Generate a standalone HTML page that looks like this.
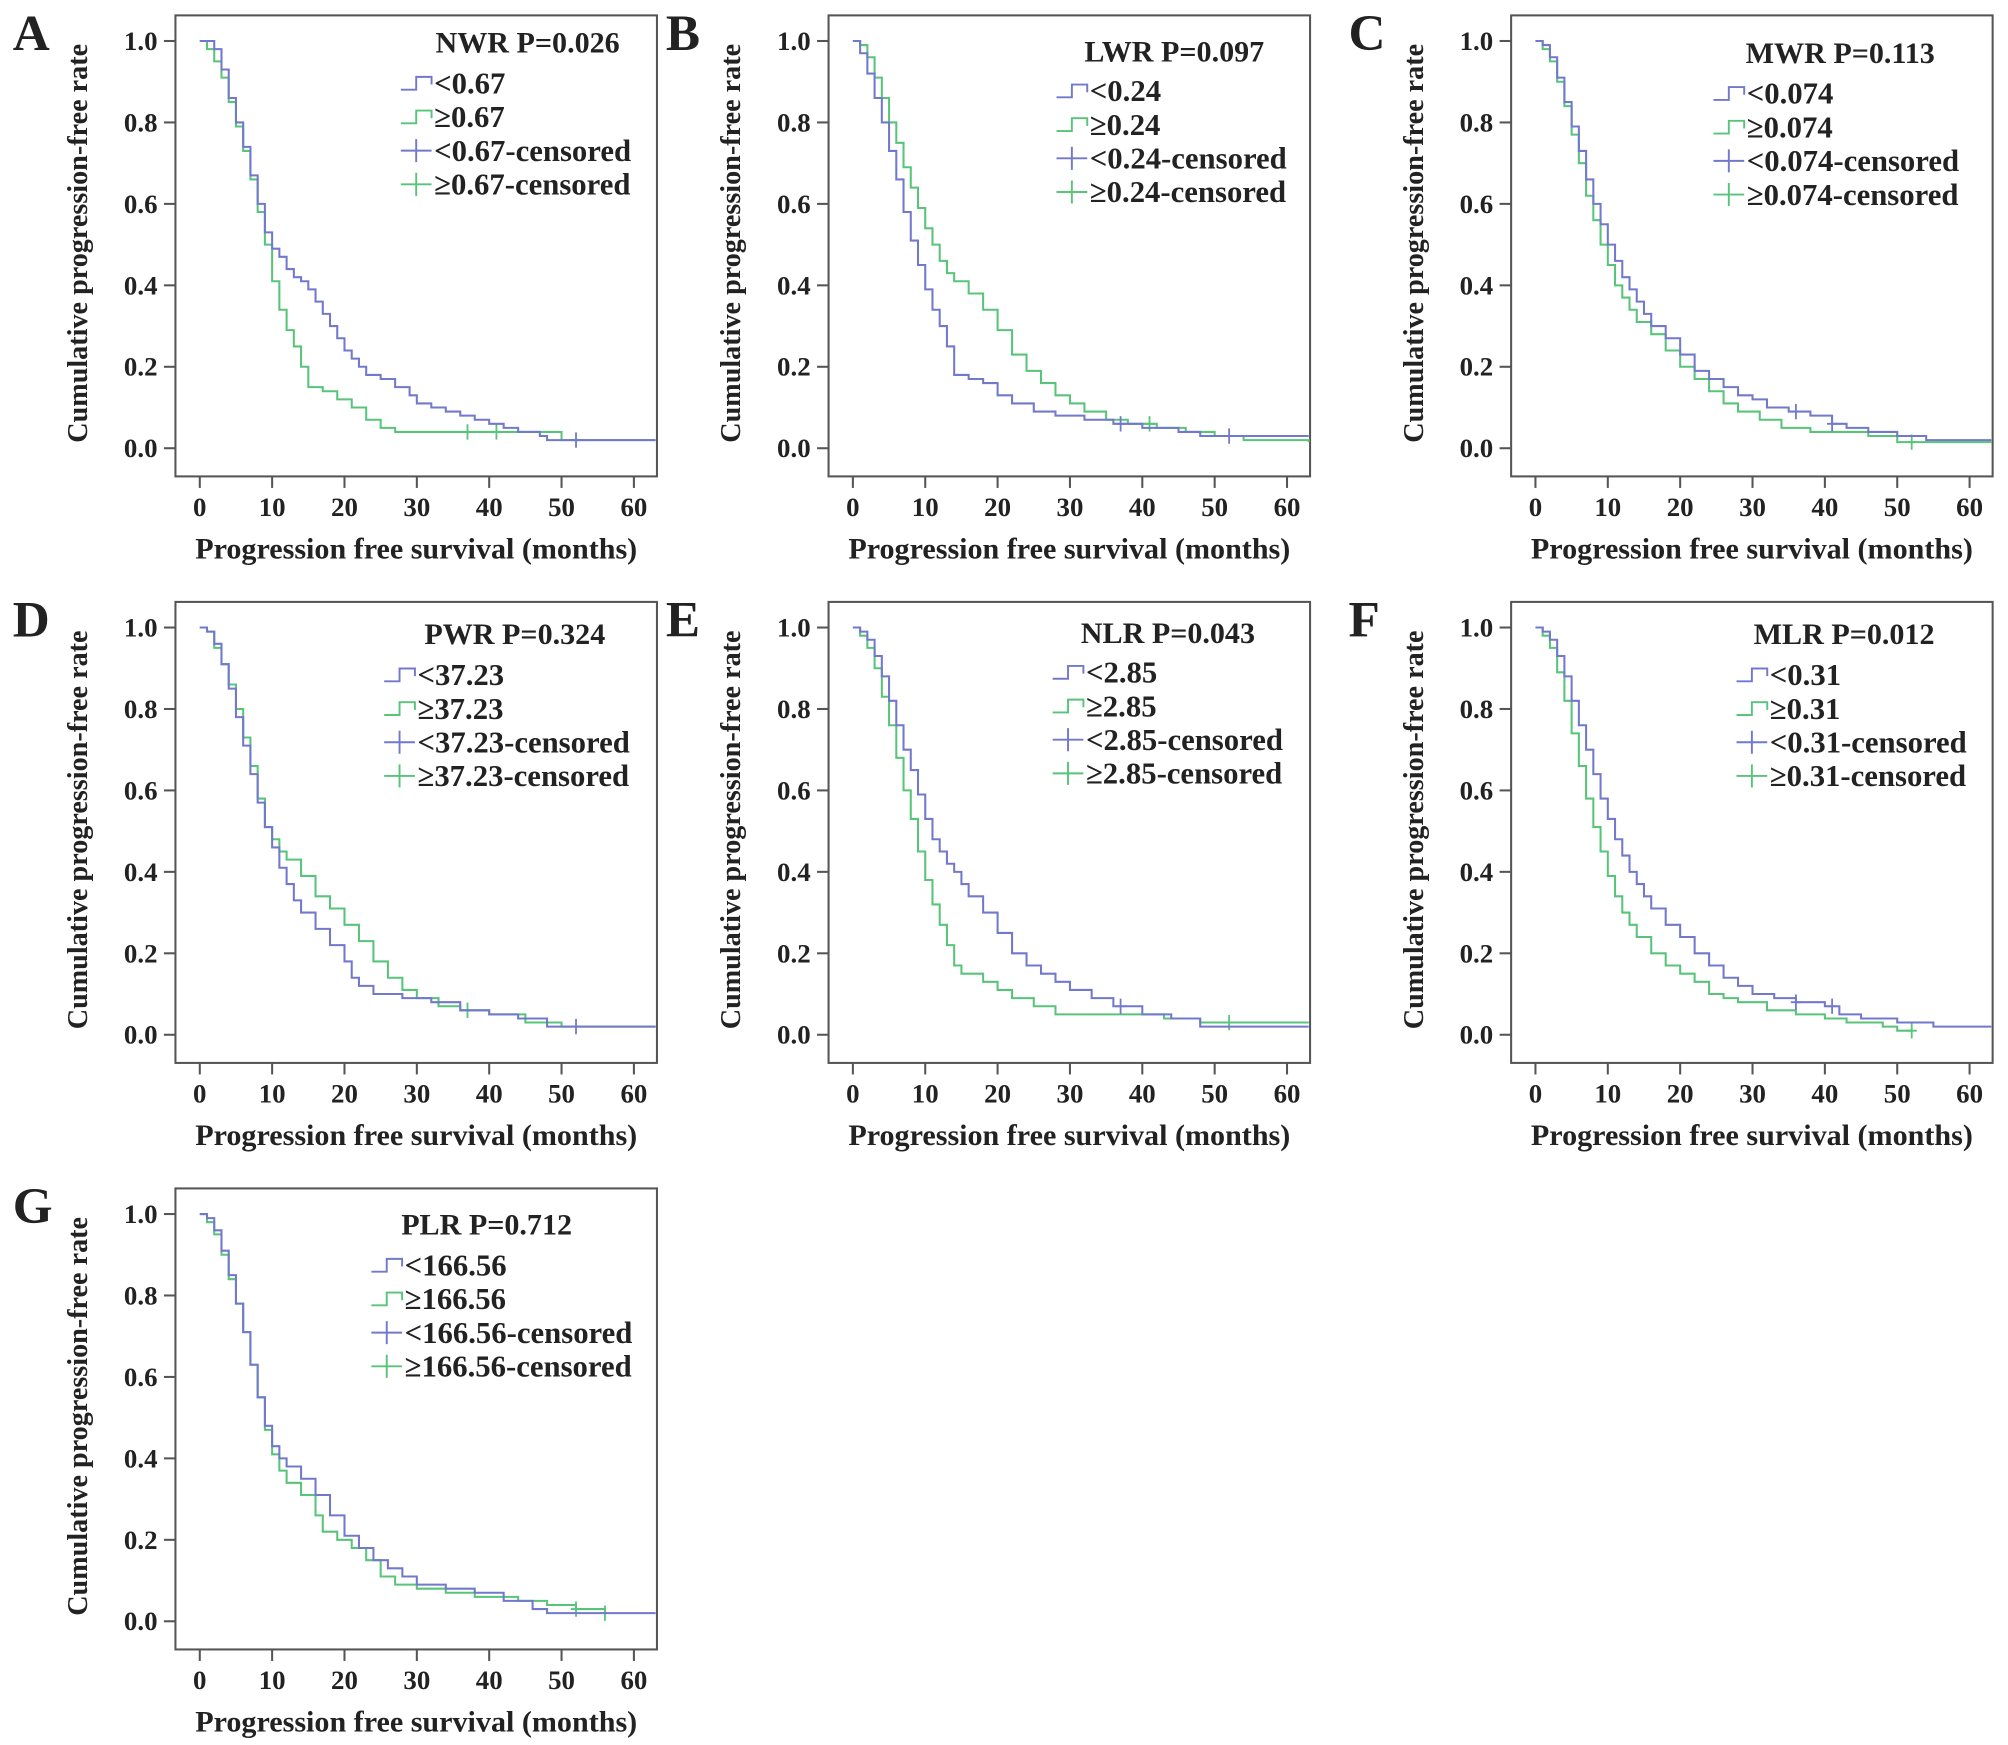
<!DOCTYPE html>
<html><head><meta charset="utf-8">
<style>
html,body{margin:0;padding:0;background:#fff;}
svg{display:block;}
text{font-family:"Liberation Serif",serif;font-weight:bold;fill:#222;}
</style></head>
<body>
<svg id="fig" width="2008" height="1745" viewBox="0 0 1568 1362.6" xmlns="http://www.w3.org/2000/svg"></svg>
<script>
// ---- data (time in months, survival proportion) ----
const xTicks = [0,10,20,30,40,50,60];
const yTicks = [0.0,0.2,0.4,0.6,0.8,1.0];
const yTickLabels = ["0.0","0.2","0.4","0.6","0.8","1.0"];
const panelLetters = ["A","B","C","D","E","F","G"];
const panelTitles = ["NWR P=0.026","LWR P=0.097","MWR P=0.113","PWR P=0.324","NLR P=0.043","MLR P=0.012","PLR P=0.712"];
const cutLabels = ["0.67","0.24","0.074","37.23","2.85","0.31","166.56"];

const aBlueT=[0,1,2,3,4,5,6,7,8,9,10,11,12,13,14,15,16,17,18,19,20,21,22,23,25,27,29,30,32,34,36,38,40,42,44,47,48,63];
const aBlueS=[1,1,.98,.93,.86,.80,.74,.67,.60,.53,.49,.47,.44,.42,.41,.39,.36,.33,.30,.27,.24,.22,.20,.18,.17,.15,.13,.11,.10,.09,.08,.07,.06,.05,.04,.03,.02,.02];
const aBlueC=[52];
const aGreenT=[0,1,2,3,4,5,6,7,8,9,10,11,12,13,14,15,17,19,21,23,25,27,49,50,63];
const aGreenS=[1,.98,.95,.91,.85,.79,.73,.66,.58,.50,.41,.34,.29,.25,.20,.15,.14,.12,.10,.07,.05,.04,.04,.02,.02];
const aGreenC=[37,41];

const bBlueT=[0,1,2,3,4,5,6,7,8,9,10,11,12,13,14,16,18,20,22,25,28,32,36,40,45,48,63];
const bBlueS=[1,.97,.92,.86,.80,.73,.66,.58,.51,.45,.39,.34,.30,.25,.18,.17,.16,.13,.11,.09,.08,.07,.06,.05,.04,.03,.03];
const bBlueC=[37,52];
const bGreenT=[0,1,2,3,4,5,6,7,8,9,10,11,12,13,14,16,18,20,22,24,26,28,30,32,35,38,42,46,50,54,63];
const bGreenS=[1,.99,.96,.91,.86,.80,.75,.69,.64,.59,.54,.50,.46,.43,.41,.38,.34,.29,.23,.19,.16,.13,.11,.09,.07,.06,.05,.04,.03,.02,.015];
const bGreenC=[41];

const cBlueT=[0,1,2,3,4,5,6,7,8,9,10,11,12,13,14,15,16,18,20,22,24,26,28,30,32,35,38,41,43,46,50,54,63];
const cBlueS=[1,.99,.96,.91,.85,.79,.73,.66,.60,.55,.50,.46,.42,.39,.36,.33,.30,.27,.23,.19,.17,.15,.13,.12,.10,.09,.08,.06,.05,.04,.03,.02,.02];
const cBlueC=[36,41];
const cGreenT=[0,1,2,3,4,5,6,7,8,9,10,11,12,13,14,16,18,20,22,24,26,28,31,34,38,46,50,63];
const cGreenS=[1,.98,.95,.90,.84,.77,.70,.62,.56,.50,.45,.40,.37,.34,.31,.28,.24,.20,.17,.14,.11,.09,.07,.05,.04,.03,.015,.015];
const cGreenC=[52];

const dBlueT=[0,1,2,3,4,5,6,7,8,9,10,11,12,13,14,16,18,20,21,22,24,28,32,36,40,44,48,63];
const dBlueS=[1,.99,.96,.91,.85,.78,.71,.64,.57,.51,.46,.41,.37,.33,.30,.26,.22,.18,.14,.12,.10,.09,.08,.06,.05,.04,.02,.02];
const dBlueC=[52];
const dGreenT=[0,1,2,3,4,5,6,7,8,9,10,11,12,14,16,18,20,22,24,26,28,30,33,36,40,45,50,63];
const dGreenS=[1,.99,.95,.91,.86,.80,.73,.66,.58,.51,.48,.45,.43,.39,.34,.31,.27,.23,.18,.14,.11,.09,.07,.06,.05,.03,.02,.02];
const dGreenC=[37];

const eBlueT=[0,1,2,3,4,5,6,7,8,9,10,11,12,13,14,15,16,18,20,22,24,26,28,30,33,36,40,44,48,63];
const eBlueS=[1,.99,.97,.93,.88,.82,.76,.70,.65,.59,.53,.48,.45,.42,.40,.37,.34,.30,.25,.20,.17,.15,.13,.11,.09,.07,.05,.04,.02,.02];
const eBlueC=[37];
const eGreenT=[0,1,2,3,4,5,6,7,8,9,10,11,12,13,14,15,18,20,22,25,28,40,43,48,63];
const eGreenS=[1,.98,.95,.90,.83,.76,.68,.60,.53,.45,.38,.32,.27,.22,.17,.15,.13,.11,.09,.07,.05,.05,.04,.03,.03];
const eGreenC=[52];

const fBlueT=[0,1,2,3,4,5,6,7,8,9,10,11,12,13,14,15,16,18,20,22,24,26,28,30,33,36,40,42,45,50,55,63];
const fBlueS=[1,.99,.97,.93,.88,.82,.76,.70,.64,.58,.53,.48,.44,.40,.37,.34,.31,.27,.24,.20,.17,.14,.12,.10,.09,.08,.07,.05,.04,.03,.02,.02];
const fBlueC=[36,41];
const fGreenT=[0,1,2,3,4,5,6,7,8,9,10,11,12,13,14,16,18,20,22,24,26,28,32,36,40,43,48,50,52];
const fGreenS=[1,.98,.95,.89,.82,.74,.66,.58,.51,.45,.39,.34,.30,.27,.24,.20,.17,.15,.13,.10,.09,.08,.06,.05,.04,.03,.02,.01,.01];
const fGreenC=[52];

const gBlueT=[0,1,2,3,4,5,6,7,8,9,10,11,12,14,16,18,20,22,24,26,28,30,34,38,42,46,48,63];
const gBlueS=[1,.99,.96,.91,.85,.78,.71,.63,.55,.48,.43,.40,.38,.35,.31,.26,.21,.18,.15,.13,.11,.09,.08,.07,.05,.03,.02,.02];
const gBlueC=[];
const gGreenT=[0,1,2,3,4,5,6,7,8,9,10,11,12,14,16,17,19,21,23,25,27,30,34,38,44,48,52,56];
const gGreenS=[1,.98,.95,.90,.84,.78,.71,.63,.55,.47,.41,.37,.34,.31,.26,.22,.20,.18,.15,.11,.09,.08,.07,.06,.05,.04,.03,.02];
const gGreenC=[52,56];

const series = [
 [aBlueT,aBlueS,aBlueC,aGreenT,aGreenS,aGreenC],
 [bBlueT,bBlueS,bBlueC,bGreenT,bGreenS,bGreenC],
 [cBlueT,cBlueS,cBlueC,cGreenT,cGreenS,cGreenC],
 [dBlueT,dBlueS,dBlueC,dGreenT,dGreenS,dGreenC],
 [eBlueT,eBlueS,eBlueC,eGreenT,eGreenS,eGreenC],
 [fBlueT,fBlueS,fBlueC,fGreenT,fGreenS,fGreenC],
 [gBlueT,gBlueS,gBlueC,gGreenT,gGreenS,gGreenC]
];

// ---- layout ----
const NS="http://www.w3.org/2000/svg";
const svg=document.getElementById('fig');
const BLUE="#7278cc", GREEN="#58c47a";
const frames=[[137,12],[647,12],[1180,12],[137,470],[647,470],[1180,470],[137,928]];
const legendPos=[[275,21,176,53],[270,28,178,59],[257,29,158,61],[265,25,163,57],[265,24,175,55],[260,25,176,57],[243,28,153,60]];
const FW=376, FH=360;
function mk(tag,attrs,parent){const e=document.createElementNS(NS,tag);for(const k in attrs)e.setAttribute(k,attrs[k]);(parent||svg).appendChild(e);return e;}

series.forEach((sr,pi)=>{
  const fx=frames[pi][0], fy=frames[pi][1];
  const g=mk('g',{});
  
  
  const xs=t=>fx+19+t*(339/60);
  const ys=s=>fy+338-s*318;
  const fr=mk('rect',{x:fx,y:fy,width:FW,height:FH,fill:'none',stroke:'#555','stroke-width':1.6},g);
  
  
  const lt=mk('text',{x:fx-127,y:fy+27,'font-size':40},g); lt.textContent=panelLetters[pi];
  
  
  yTicks.forEach((v,i)=>{
    mk('line',{x1:fx-9,x2:fx,y1:ys(v),y2:ys(v),stroke:'#555','stroke-width':1.6},g);
    const t=mk('text',{x:fx-14,y:ys(v)+7,'font-size':21,'text-anchor':'end'},g); t.textContent=yTickLabels[i];
    
    
  });
  xTicks.forEach(v=>{
    mk('line',{x1:xs(v),x2:xs(v),y1:fy+FH,y2:fy+FH+9,stroke:'#555','stroke-width':1.6},g);
    const t=mk('text',{x:xs(v),y:fy+391,'font-size':21,'text-anchor':'middle'},g); t.textContent=String(v);
    
    
  });
  const xl=mk('text',{x:fx+188,y:fy+424,'font-size':23.5,'text-anchor':'middle'},g); xl.textContent='Progression free survival (months)';
  
  
  const yl=mk('text',{x:0,y:0,'font-size':22,'text-anchor':'middle',transform:`translate(${fx-69},${fy+178}) rotate(-90)`},g); yl.textContent='Cumulative progression-free rate';
  
  
  function curve(T,S,C,col,name){
    let d=`M${xs(T[0])},${ys(S[0])}`;
    for(let i=1;i<T.length;i++){d+=` H${xs(T[i])} V${ys(S[i])}`;}
    const p=mk('path',{d:d,fill:'none',stroke:col,'stroke-width':1.6},g);
    
    
    C.forEach(c=>{
      let s=S[0];for(let i=0;i<T.length;i++){if(T[i]<=c)s=S[i];}
      const m=mk('path',{d:`M${xs(c)},${ys(s)-6}V${ys(s)+6}M${xs(c)-4},${ys(s)}H${xs(c)+4}`,stroke:col,'stroke-width':1.4},g);
      
      
    });
  }
  curve(sr[3],sr[4],sr[5],GREEN,'high-group');
  curve(sr[0],sr[1],sr[2],BLUE,'low-group');
  // legend
  const L=legendPos[pi];
  const tt=mk('text',{x:fx+L[0],y:fy+L[1]+8,'font-size':23.5,'text-anchor':'middle'},g); tt.textContent=panelTitles[pi];
  
  
  const labels=['<'+cutLabels[pi],'≥'+cutLabels[pi],'<'+cutLabels[pi]+'-censored','≥'+cutLabels[pi]+'-censored'];
  const cols=[BLUE,GREEN,BLUE,GREEN];
  labels.forEach((lb,i)=>{
    const sx=fx+L[2], sy=fy+L[3]+i*26.3;
    if(i<2) mk('path',{d:`M${sx},${sy+5}H${sx+12}V${sy-5}H${sx+24}V${sy+1}`,fill:'none',stroke:cols[i],'stroke-width':1.5},g);
    else mk('path',{d:`M${sx},${sy}H${sx+24}M${sx+12},${sy-9}V${sy+9}`,fill:'none',stroke:cols[i],'stroke-width':1.5},g);
    const t=mk('text',{x:sx+26,y:sy+8,'font-size':24},g); t.textContent=lb;
    
    
  });
});
</script>
</body></html>
